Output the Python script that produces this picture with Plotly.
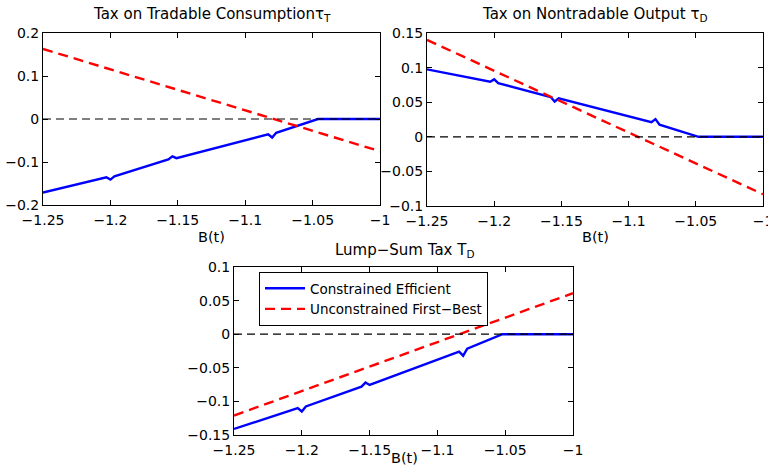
import plotly.graph_objects as go

# ---------------- data ----------------
# Tax on Tradable Consumption tau_T
tauT_ce_x = [-1.25, -1.203, -1.2, -1.197, -1.157, -1.154, -1.151, -1.083, -1.080, -1.077, -1.046, -1.0]
tauT_ce_y = [-0.171, -0.1355, -0.141, -0.1335, -0.094, -0.087, -0.091, -0.0355, -0.043, -0.032, 0.0, 0.0]
tauT_fb_x = [-1.25, -1.0]
tauT_fb_y = [0.163, -0.075]

# Tax on Nontradable Output tau_D
tauD_ce_x = [-1.25, -1.203, -1.2, -1.197, -1.158, -1.155, -1.152, -1.083, -1.080, -1.077, -1.048, -1.0]
tauD_ce_y = [0.0975, 0.0795, 0.083, 0.0775, 0.0575, 0.051, 0.0555, 0.021, 0.0255, 0.0175, 0.0, 0.0]
tauD_fb_x = [-1.25, -1.0]
tauD_fb_y = [0.14, -0.083]

# Lump-Sum Tax T_D
TD_ce_x = [-1.25, -1.203, -1.2, -1.197, -1.156, -1.153, -1.150, -1.084, -1.081, -1.078, -1.052, -1.0]
TD_ce_y = [-0.141, -0.110, -0.115, -0.1075, -0.078, -0.072, -0.0755, -0.026, -0.032, -0.0215, 0.0, 0.0]
TD_fb_x = [-1.25, -1.0]
TD_fb_y = [-0.121, 0.061]

x_ticks = [-1.25, -1.2, -1.15, -1.1, -1.05, -1.0]
x_ticktext = ["\u22121.25", "\u22121.2", "\u22121.15", "\u22121.1", "\u22121.05", "\u22121"]
yT_ticks = [-0.2, -0.1, 0.0, 0.1, 0.2]
yT_ticktext = ["\u22120.2", "\u22120.1", "0", "0.1", "0.2"]
yD_ticks = [-0.1, -0.05, 0.0, 0.05, 0.1, 0.15]
yD_ticktext = ["\u22120.1", "\u22120.05", "0", "0.05", "0.1", "0.15"]
yL_ticks = [-0.15, -0.1, -0.05, 0.0, 0.05, 0.1]
yL_ticktext = ["\u22120.15", "\u22120.1", "\u22120.05", "0", "0.05", "0.1"]

titles = ["Tax on Tradable Consumption\u03c4<sub>T</sub>",
          "Tax on Nontradable Output \u03c4<sub>D</sub>",
          "Lump\u2212Sum Tax T<sub>D</sub>"]
legend_names = ["Constrained Efficient", "Unconstrained First\u2212Best"]
xlabel = "B(t)"

# ---------------- figure ----------------
W, H = 768, 467
FONT = "DejaVu Sans"
BLUE = "#0000ff"
RED = "#ff0000"

def px(x):
    return x / W

def py(y):
    return 1 - y / H

fig = go.Figure()

panels = [
    ("x", "y", tauT_ce_x, tauT_ce_y, tauT_fb_x, tauT_fb_y, False),
    ("x2", "y2", tauD_ce_x, tauD_ce_y, tauD_fb_x, tauD_fb_y, False),
    ("x3", "y3", TD_ce_x, TD_ce_y, TD_fb_x, TD_fb_y, True),
]

for xa, ya, cx, cy, fx, fy, leg in panels:
    fig.add_shape(type="line", xref=xa, yref=ya, x0=x_ticks[0], x1=x_ticks[-1], y0=0, y1=0,
                  line=dict(color="black", width=1.2, dash="8px,5px"))
    fig.add_trace(go.Scatter(x=cx, y=cy, mode="lines", name=legend_names[0], showlegend=leg,
                             line=dict(color=BLUE, width=2.4), xaxis=xa, yaxis=ya))
    fig.add_trace(go.Scatter(x=fx, y=fy, mode="lines", name=legend_names[1], showlegend=leg,
                             line=dict(color=RED, width=2.4, dash="10px,6px"), xaxis=xa, yaxis=ya))

axis_common = dict(showline=True, linecolor="black", linewidth=1, mirror="ticks",
                   ticks="inside", ticklen=5, tickcolor="black", showgrid=False,
                   zeroline=False, automargin=False, ticklabeloverflow="allow",
                   tickfont=dict(family=FONT, size=14, color="black"))

doms = {
    "1": ([px(43), px(380)], [py(205), py(33)]),
    "2": ([px(427), px(763)], [py(206), py(33)]),
    "3": ([px(234), px(573)], [py(435), py(267)]),
}
yinfo = {
    "1": ([-0.2, 0.2], yT_ticks, yT_ticktext),
    "2": ([-0.1, 0.15], yD_ticks, yD_ticktext),
    "3": ([-0.15, 0.1], yL_ticks, yL_ticktext),
}

layout = {}
for k in ["1", "2", "3"]:
    xn = "xaxis" if k == "1" else "xaxis" + k
    yn = "yaxis" if k == "1" else "yaxis" + k
    xanchor = "y" if k == "1" else "y" + k
    yanchor = "x" if k == "1" else "x" + k
    layout[xn] = dict(axis_common, domain=doms[k][0], anchor=xanchor, range=[-1.25, -1.0],
                      tickvals=x_ticks, ticktext=x_ticktext, ticklabelstandoff=2)
    layout[yn] = dict(axis_common, domain=doms[k][1], anchor=yanchor, range=yinfo[k][0],
                      tickvals=yinfo[k][1], ticktext=yinfo[k][2])

fig.update_layout(**layout)

annotations = []
title_pos = [(211.5, 14), (595, 14), (404, 251)]
for t, (tx, ty) in zip(titles, title_pos):
    annotations.append(dict(text=t, x=px(tx), y=py(ty), xref="paper", yref="paper",
                            xanchor="center", yanchor="middle", showarrow=False,
                            font=dict(family=FONT, size=15, color="black")))
label_pos = [(211.5, 237), (595, 237), (404, 458)]
for lx, ly in label_pos:
    annotations.append(dict(text=xlabel, x=px(lx), y=py(ly), xref="paper", yref="paper",
                            xanchor="center", yanchor="middle", showarrow=False,
                            font=dict(family=FONT, size=14.5, color="black")))

fig.update_layout(
    width=W, height=H,
    margin=dict(l=0, r=0, t=0, b=0, autoexpand=False),
    paper_bgcolor="white", plot_bgcolor="white",
    annotations=annotations,
    legend=dict(x=px(259), y=py(272), xanchor="left", yanchor="top",
                bordercolor="black", borderwidth=1, bgcolor="white",
                font=dict(family=FONT, size=13.5, color="black"),
                tracegroupgap=0, itemwidth=40),
)

fig.write_html("out.html", config={"displayModeBar": False},
               post_script="document.body.style.margin='0';")
